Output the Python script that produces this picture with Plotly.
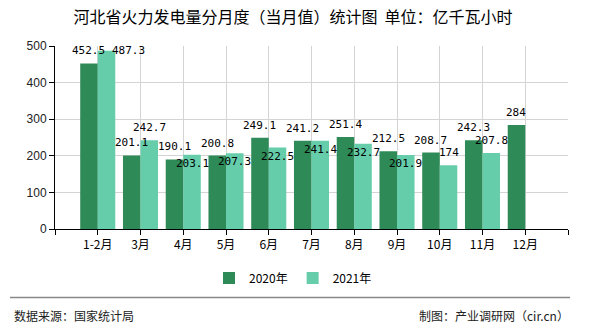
import plotly.graph_objects as go

# ---- data ----
categories = ["1-2月", "3月", "4月", "5月", "6月", "7月", "8月", "9月", "10月", "11月", "12月"]
values_2020 = [452.5, 201.1, 190.1, 200.8, 249.1, 241.2, 251.4, 212.5, 208.7, 242.3, 284]
values_2021 = [487.3, 242.7, 203.1, 207.3, 222.5, 241.4, 232.7, 201.9, 174, 207.8]
series_names = ["2020年", "2021年"]
y_ticks = [0, 100, 200, 300, 400, 500]

# label nudges (px) for labels moved to avoid overlaps in the original
shift_2021 = {0: (22, 0), 2: (0, -8.5), 3: (0, -8.5), 4: (0, -8.5), 5: (0, -8.5), 6: (0, -8.5), 7: (0, -8.5)}

# ---- style / layout ----
W, H = 590, 330
PL, PR, PT, PB = 55, 568, 46, 229
C2020 = "#2E8B57"
C2021 = "#66CDAA"
CJK = "Noto Sans CJK SC"
BARGAP = 0.18
half = (1 - BARGAP) / 4  # centre offset of each bar in a 2-bar group


def px(x):
    return (x - PL) / (PR - PL)


def py(y):
    return (PB - y) / (PB - PT)


xs = list(range(len(categories)))

fig = go.Figure()
fig.add_trace(go.Bar(x=xs, y=values_2020, name=series_names[0], marker_color=C2020,
                     marker_line_width=0))
fig.add_trace(go.Bar(x=xs[:len(values_2021)], y=values_2021, name=series_names[1],
                     marker_color=C2021, marker_line_width=0))

annotations = []
lab_font = dict(family="DejaVu Sans Mono, Liberation Mono, monospace", size=11, color="#000")
for i, v in enumerate(values_2020):
    annotations.append(dict(x=i - half, y=v, xref="x", yref="y", text=f"{v:g}", showarrow=False,
                            yanchor="middle", xanchor="center", yshift=12.5, font=lab_font))
for i, v in enumerate(values_2021):
    dx, dy = shift_2021.get(i, (0, 12.5))
    annotations.append(dict(x=i + half, y=v, xref="x", yref="y", text=f"{v:g}", showarrow=False,
                            yanchor="middle", xanchor="center", xshift=dx, yshift=dy, font=lab_font))

# footer texts
annotations.append(dict(x=px(12), y=py(315.5), xref="paper", yref="paper", text="数据来源：国家统计局",
                        showarrow=False, xanchor="left", yanchor="middle",
                        font=dict(family=CJK, size=12, color="#222")))
annotations.append(dict(x=px(571), y=py(315.5), xref="paper", yref="paper", text="制图：产业调研网（cir.cn）",
                        showarrow=False, xanchor="right", yanchor="middle",
                        font=dict(family=CJK, size=12, color="#222")))

shapes = [dict(type="line", xref="paper", yref="paper", x0=px(10), x1=px(570), y0=py(297.5), y1=py(297.5),
               line=dict(color="#888", width=1.5))]

fig.update_layout(
    width=W, height=H,
    margin=dict(l=PL, r=W - PR, t=PT, b=H - PB),
    paper_bgcolor="white", plot_bgcolor="white",
    barmode="group", bargap=BARGAP, bargroupgap=0,
    title=dict(text="河北省火力发电量分月度（当月值）统计图&nbsp;&nbsp;单位：亿千瓦小时",
               x=293 / W, xanchor="center", xref="container",
               y=1 - 17 / H, yanchor="middle", yref="container",
               font=dict(family=CJK, size=16, color="#000")),
    legend=dict(orientation="h", x=px(293), xanchor="center", y=py(278), yanchor="middle",
                font=dict(family=CJK, size=12, color="#000"), itemwidth=30, traceorder="normal"),
    showlegend=True,
    annotations=annotations,
    shapes=shapes,
    xaxis=dict(range=[-1, len(categories)], tickmode="array",
               tickvals=list(range(-1, len(categories) + 1)),
               ticktext=[""] + categories + [""],
               showgrid=True, gridcolor="#d4d4d4", gridwidth=1, zeroline=False,
               showline=True, linecolor="#000", linewidth=1,
               ticks="outside", ticklen=5, tickcolor="#000",
               tickfont=dict(family=CJK, size=12, color="#000")),
    yaxis=dict(range=[0, 500], tickmode="array", tickvals=y_ticks,
               showgrid=True, gridcolor="#d4d4d4", gridwidth=1, zeroline=False,
               showline=True, linecolor="#000", linewidth=1,
               ticks="outside", ticklen=5, tickcolor="#000",
               tickfont=dict(family="Liberation Sans, Arial, sans-serif", size=12, color="#222")),
)

fig.write_html("out.html")
